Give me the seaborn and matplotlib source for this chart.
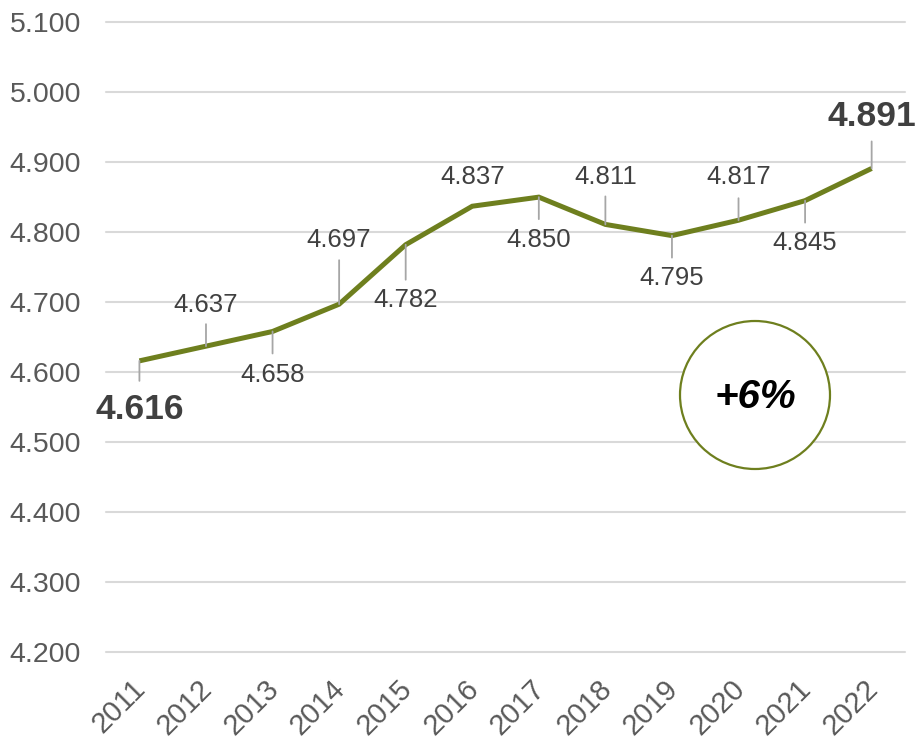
import matplotlib
matplotlib.use("Agg")
import matplotlib.pyplot as plt
from matplotlib.patches import Ellipse
from matplotlib.ticker import FuncFormatter
from matplotlib.transforms import ScaledTranslation
import pandas as pd
import seaborn as sns

# values (thousands) per year
years = ["2011", "2012", "2013", "2014", "2015", "2016",
         "2017", "2018", "2019", "2020", "2021", "2022"]
values = [4616, 4637, 4658, 4697, 4782, 4837, 4850, 4811, 4795, 4817, 4845, 4891]
y_ticks = [4200, 4300, 4400, 4500, 4600, 4700, 4800, 4900, 5000, 5100]
growth_label = "+6%"

# label placement: offset of label centre and leader length, in pixels (negative = above)
label_offset = [49, -41, 44, -64, 55, -29, 43, -47, 42, -43, 42, -52]
leader_len = [20, 22, 22, 44, 35, 0, 22, 28, 22, 22, 22, 27]
bold_label = [True] + [False] * 10 + [True]

df = pd.DataFrame({"year": years, "value": values, "pos": range(len(years))})

sns.set_theme(style="white")
plt.rcParams["font.family"] = ["Liberation Sans", "DejaVu Sans"]

line_col = "#6E7F1E"
fig = plt.figure(figsize=(9.15, 7.4), dpi=100)
ax = fig.add_axes([0.116, 0.119, 0.873, 0.851])

sns.lineplot(data=df, x="pos", y="value", color=line_col, linewidth=3.6, ax=ax,
             solid_joinstyle="miter", solid_capstyle="butt")

ax.set_xlim(-0.5, len(years) - 0.5)
ax.set_ylim(y_ticks[0], y_ticks[-1])
ax.set_yticks(y_ticks)
ax.yaxis.set_major_formatter(FuncFormatter(lambda v, p: f"{v / 1000:.3f}"))
ax.set_xticks(df["pos"])
ax.set_xticklabels(years, rotation=45, ha="right", rotation_mode="anchor")
ax.tick_params(axis="both", length=0, labelcolor="#595959")
ax.tick_params(axis="y", labelsize=20.5, pad=18)
ax.tick_params(axis="x", labelsize=21, pad=14)
shift = ScaledTranslation(-8 / 100, -3 / 100, fig.dpi_scale_trans)
for lbl in ax.get_xticklabels():
    lbl.set_transform(lbl.get_transform() + shift)
ax.grid(axis="y", color="#D9D9D9", linewidth=1.5)
ax.grid(axis="x", visible=False)
for sp in ax.spines.values():
    sp.set_visible(False)
ax.set_xlabel("")
ax.set_ylabel("")
for gl in ax.get_ygridlines():
    gl.set_clip_on(False)

for i, v in enumerate(values):
    off = label_offset[i]
    sign = 1 if off > 0 else -1
    if leader_len[i] > 0:
        ax.annotate("", xy=(i, v), xytext=(0, -sign * leader_len[i]),
                    textcoords="offset pixels",
                    arrowprops=dict(arrowstyle="-", color="#A6A6A6", lw=1.3,
                                    shrinkA=0, shrinkB=0))
    txt = f"{v / 1000:.3f}"
    if bold_label[i]:
        ax.annotate(txt, xy=(i, v), xytext=(0, -off), textcoords="offset pixels",
                    ha="center", va="center", fontsize=25.5, fontweight="bold",
                    color="#404040", annotation_clip=False)
    else:
        ax.annotate(txt, xy=(i, v), xytext=(0, -off), textcoords="offset pixels",
                    ha="center", va="center", fontsize=18.5, color="#404040",
                    annotation_clip=False)

# growth badge
circ = Ellipse((755 / 915, 1 - 395 / 740), 150 / 915, 148 / 740,
               transform=fig.transFigure, facecolor="white",
               edgecolor=line_col, linewidth=1.6, zorder=5)
fig.patches.append(circ)
fig.text(755 / 915, 1 - 397 / 740, growth_label, ha="center", va="center",
         fontsize=29, fontweight="bold", fontstyle="italic", color="black", zorder=6)

fig.savefig("out.png", dpi=100)
